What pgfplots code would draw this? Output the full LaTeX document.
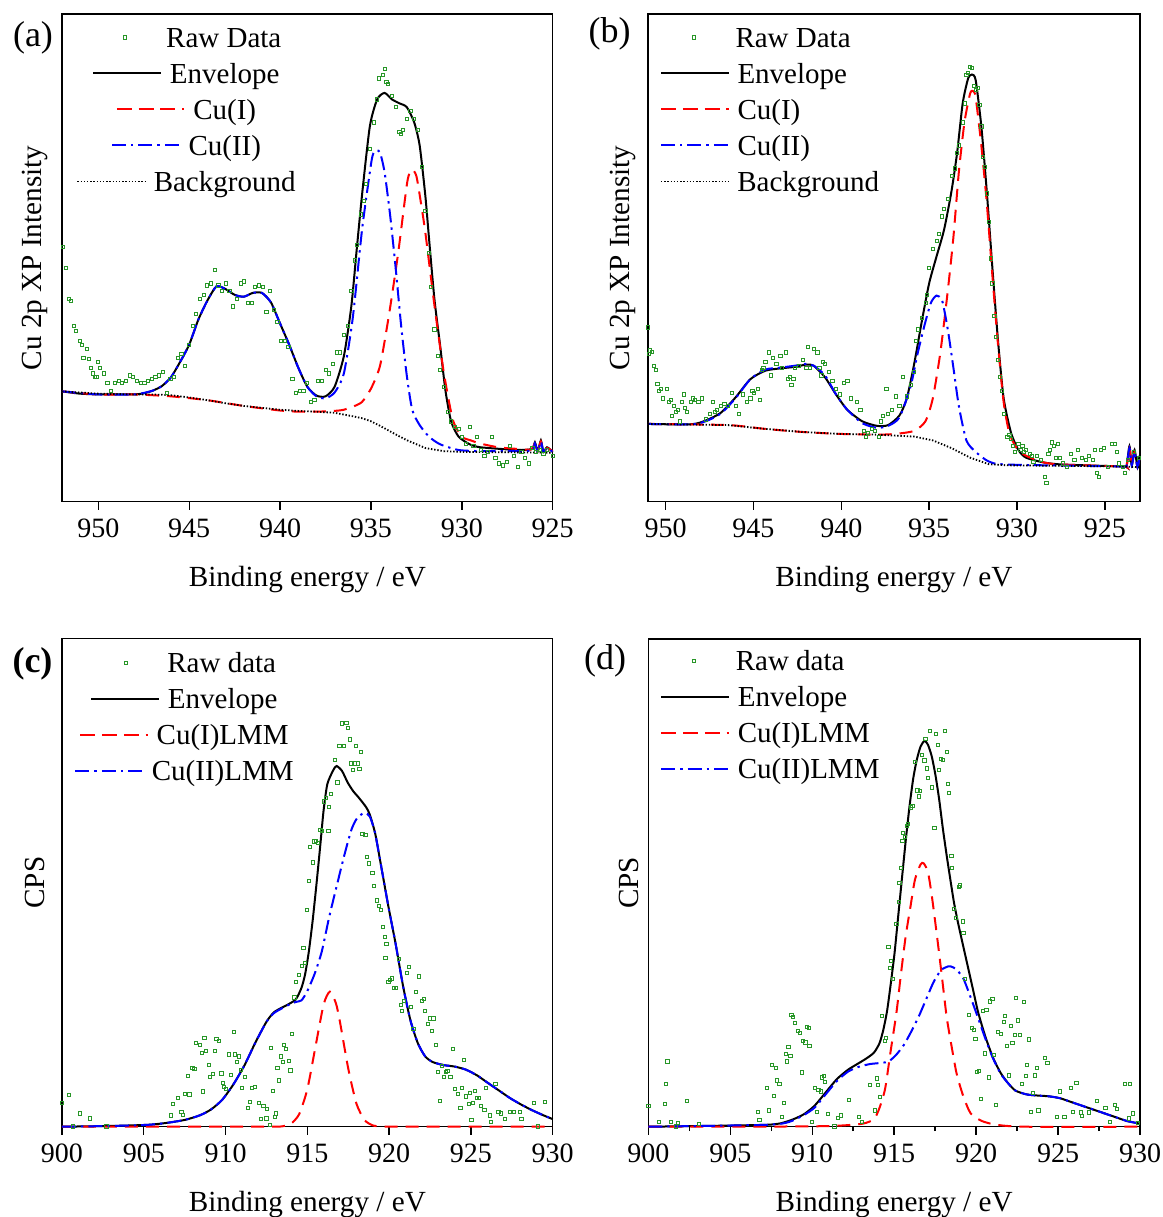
\documentclass[border=0pt]{standalone}
\usepackage{fontspec}
\setmainfont{Liberation Serif}
\usepackage{pgfplots}
\pgfplotsset{compat=1.18}

\definecolor{rawgreen}{RGB}{40,150,40}
\newcommand{\legfont}{\fontsize{14.5}{17.4}\selectfont}
\newcommand{\labfont}{\fontsize{14.6}{17.5}\selectfont}
\newcommand{\smpl}[1]{\tikz[baseline=-4.8pt]{\path (0pt,0pt) (33.75pt,0pt); \draw[#1] (0pt,0pt) -- (33.75pt,0pt);}\hspace{4pt}}
\newcommand{\smplmark}{\tikz[baseline=-4.8pt]{\path (0pt,0pt) (33.75pt,0pt); \draw[rawgreen, line width=0.35pt, solid] (16.1pt,-0.8pt) rectangle (17.7pt,0.8pt);}\hspace{4pt}}

\pgfplotsset{
  envelope/.style={black, solid, line width=1pt, smooth, tension=0.4},
  cuone/.style={red, line width=1pt, dash pattern=on 6.5pt off 4pt, smooth, tension=0.4},
  cutwo/.style={blue, line width=1pt, dash pattern=on 7pt off 2.5pt on 1.2pt off 2.5pt, smooth, tension=0.4},
  bgline/.style={black, line width=0.9pt, dash pattern=on 0.7pt off 0.9pt},
  raw/.style={only marks, mark=square, mark size=0.8pt, mark options={draw=rawgreen, line width=0.35pt, solid, fill=none}},
  xpsbase/.style={
    scale only axis, enlargelimits=false, clip=false,
    axis line style={line width=0.7pt},
    every tick/.style={line width=0.7pt, black},
    tick align=outside, tick pos=left, ytick=\empty,
    major tick length=4pt, minor tick length=2.2pt,
    /pgf/number format/assume math mode=true,
    xticklabel style={font=\fontsize{14}{16}\selectfont, yshift=-1.2pt},
    every axis x label/.style={at={(axis description cs:0.5,0)}, anchor=center, yshift=-39pt, font=\labfont},
    legend image code/.code={},
    legend style={draw=none, fill=none, inner sep=0pt, outer sep=0pt, row sep=0pt, column sep=0pt,
      nodes={inner sep=0pt, outer sep=0pt, text height=11.6pt, text depth=6.4pt, font=\legfont}},
  },
  ylab/.style={every axis y label/.style={at={(axis description cs:0,0.5)}, xshift=#1, rotate=90, anchor=center, font=\labfont}},
}

\begin{document}
\begin{tikzpicture}
\useasboundingbox (0pt,0pt) rectangle (581.5pt,-608.5pt);

% ---------------- (a) ----------------
\begin{axis}[xpsbase, at={(31pt,-250.85pt)}, anchor=south west,
  width=245.35pt, height=243.85pt,
  xmin=925, xmax=952, x dir=reverse, ymin=0, ymax=1273,
  xtick={925,930,...,950},
  xlabel={Binding energy / eV}, ylabel={Cu 2p XP Intensity}, ylab=-13.3pt,
  legend cell align=center,
  legend style={at={(0.2527,1)}, anchor=north, yshift=-4.9pt}]
\addplot[raw] coordinates {
(951.94,665) (951.80,610) (951.63,530) (951.53,525) (951.33,460) (951.23,445) (951.02,420) (950.92,410) (950.82,375) (950.62,400) (950.52,372) (950.41,350) (950.31,335) (950.21,325) (950.11,325) (950.01,365) (949.91,350) (949.70,335) (949.50,310) (949.30,290) (949.09,310) (948.89,315) (948.69,310) (948.48,315) (948.28,330) (948.08,325) (947.87,315) (947.67,310) (947.47,310) (947.26,315) (947.06,320) (946.86,325) (946.65,330) (946.45,340) (946.25,285) (946.04,320) (945.84,325) (945.64,375) (945.43,385) (945.23,355) (945.03,410) (944.82,460) (944.62,490) (944.42,530) (944.21,540) (944.01,565) (943.81,570) (943.60,605) (943.40,565) (943.20,550) (942.99,570) (942.79,550) (942.59,510) (942.38,530) (942.18,570) (941.98,575) (941.77,520) (941.57,520) (941.37,560) (941.16,565) (940.96,560) (940.76,495) (940.55,550) (940.35,500) (940.15,470) (939.94,420) (939.74,420) (939.54,405) (939.33,320) (939.13,285) (938.93,290) (938.72,290) (938.52,310) (938.32,260) (938.11,265) (937.91,315) (937.71,315) (937.50,345) (937.30,335) (937.10,360) (936.89,390) (936.69,390) (936.49,435) (936.28,460) (936.08,550) (935.88,630) (935.78,670) (935.57,750) (935.37,785) (935.27,830) (935.06,920) (934.86,990) (934.66,1050) (934.56,1105) (934.35,1115) (934.25,1130) (934.15,1095) (934.05,1090) (933.84,1060) (933.64,1030) (933.44,965) (933.34,960) (933.23,970) (933.03,1000) (932.83,1020) (932.62,1000) (932.42,970) (932.22,875) (932.01,760) (931.81,650) (931.71,560) (931.51,450) (931.30,380) (931.20,345) (931.00,300) (930.79,235) (930.59,210) (930.39,195) (930.18,190) (929.98,170) (929.78,150) (929.57,195) (929.37,145) (929.17,170) (928.96,135) (928.76,120) (928.56,130) (928.35,170) (928.15,115) (927.95,100) (927.74,95) (927.54,105) (927.34,145) (927.13,120) (926.93,90) (926.73,130) (926.52,115) (926.32,100) (926.12,140) (925.92,130) (925.71,135) (925.51,125) (925.31,135) (925.00,120)
};
\addlegendentry{\smplmark Raw Data}
\addplot[envelope] coordinates {
(952,288) (951,282) (950,280) (949,280) (948,280) (947.5,283) (947,290) (946.5,302) (946,325) (945.5,365) (945,410) (944.5,475) (944,525) (943.5,562) (943,555) (942.5,540) (942,535) (941.5,545) (941,545) (940.5,520) (940,465) (939.5,410) (939,350) (938.5,300) (938,277) (937.5,275) (937,300) (936.49,380) (936.08,510) (935.78,660) (935.47,810) (935.06,980) (934.66,1050) (934.25,1067) (933.84,1050) (933.44,1040) (933.03,1030) (932.62,990) (932.32,930) (932.01,800) (931.81,690) (931.51,530) (931.20,410) (930.90,290) (930.59,210) (930.18,170) (929.57,150) (928.96,142) (926.93,135) (926.12,138) (925.98,155) (925.82,132) (925.65,160) (925.51,130) (925.31,142) (925.00,130)
};
\addlegendentry{\smpl{black,solid,line width=1pt}Envelope}
\addplot[cuone] coordinates {
(952,288) (950,280) (948,280) (946,275) (944,265) (942,250) (940,238) (939,235) (938,235) (937,237) (936.5,240) (936,248) (935.5,260) (935,295) (934.5,355) (934,490) (933.5,650) (933,835) (932.75,867) (932.5,850) (932.25,780) (932,700) (931.5,510) (931,340) (930.5,215) (930,170) (929.5,160) (929,152) (928,142) (927,138) (926.2,136) (925.98,152) (925.82,133) (925.65,157) (925.5,130) (925.3,140) (925,132)
};
\addlegendentry{\smpl{red,line width=1pt,dash pattern=on 7.5pt off 3.4pt}Cu(I)}
\addplot[cutwo] coordinates {
(952,288) (950,280) (948,280) (947,290) (946.5,302) (946,325) (945.5,365) (945,410) (944.5,475) (944,525) (943.5,562) (943,555) (942.5,540) (942,535) (941.5,545) (941,545) (940.5,520) (940,465) (939.5,410) (939,350) (938.5,300) (938,275) (937.5,270) (937,285) (936.49,335) (936,480) (935.49,710) (935,880) (934.86,910) (934.66,917) (934.49,910) (934.25,860) (933.95,750) (933.64,610) (933.34,460) (933.03,330) (932.73,240) (932.32,200) (931.81,170) (931.20,150) (930.18,135) (928.96,132) (926.93,132) (926.12,134) (925.98,152) (925.82,130) (925.65,157) (925.51,130) (925.31,140) (925.00,130)
};
\addlegendentry{\smpl{blue,line width=1pt,dash pattern=on 7pt off 2.5pt on 1.2pt off 2.5pt}Cu(II)}
\addplot[bgline] coordinates {
(952,288) (950,282) (948,280) (947,280) (946,278) (945,272) (944,265) (943,257) (942,250) (941,245) (940,240) (939,237) (938,235) (937,232) (936,223) (935.5,218) (935,210) (934.5,198) (934,185) (933.5,172) (933,160) (932.5,150) (932,140) (931,132) (930,130) (925,128)
};
\addlegendentry{\smpl{black,line width=0.9pt,dash pattern=on 0.7pt off 0.9pt}Background}
\end{axis}

% ---------------- (b) ----------------
\begin{axis}[xpsbase, at={(324pt,-250.85pt)}, anchor=south west,
  width=246pt, height=243.85pt,
  xmin=923, xmax=951, x dir=reverse, ymin=0, ymax=1273,
  xtick={925,930,...,950},
  xlabel={Binding energy / eV}, ylabel={Cu 2p XP Intensity}, ylab=-12.7pt,
  legend cell align=left,
  legend style={at={(0.0244,1)}, anchor=north west, yshift=-4.9pt}]
\addplot[raw] coordinates {
(950.99,455) (950.97,385) (950.89,395) (950.78,392) (950.68,355) (950.57,345) (950.47,307) (950.36,290) (950.25,295) (950.15,270) (949.94,295) (949.83,260) (949.72,265) (949.62,225) (949.51,250) (949.41,235) (949.30,240) (949.19,210) (949.09,260) (948.98,280) (948.88,245) (948.77,235) (948.56,260) (948.45,270) (948.35,265) (948.14,260) (947.92,270) (947.71,215) (947.50,230) (947.29,260) (947.18,235) (947.08,240) (946.86,250) (946.65,255) (946.44,250) (946.23,285) (946.02,250) (945.81,230) (945.59,280) (945.38,260) (945.17,270) (945.06,290) (944.96,285) (944.75,295) (944.64,265) (944.53,345) (944.43,350) (944.32,365) (944.11,390) (944.00,330) (943.90,375) (943.69,360) (943.47,380) (943.37,350) (943.16,390) (943.05,320) (942.94,325) (942.84,305) (942.73,320) (942.63,350) (942.42,355) (942.20,370) (941.99,350) (941.89,405) (941.78,350) (941.57,400) (941.36,390) (941.25,350) (941.14,330) (941.04,365) (940.93,360) (940.72,340) (940.51,315) (940.30,295) (940.08,280) (939.87,310) (939.66,315) (939.45,270) (939.13,260) (938.92,240) (938.71,185) (938.60,170) (938.50,180) (938.28,190) (938.07,185) (937.86,170) (937.75,210) (937.65,225) (937.44,295) (937.33,230) (937.12,240) (936.91,275) (936.69,250) (936.48,325) (936.27,275) (936.06,305) (935.85,340) (935.74,420) (935.64,450) (935.42,480) (935.21,520) (935.11,540) (935.00,610) (934.79,660) (934.58,680) (934.47,700) (934.26,745) (934.15,765) (933.94,790) (933.73,850) (933.52,870) (933.41,910) (933.31,930) (933.09,990) (932.99,1040) (932.88,1115) (932.78,1120) (932.67,1135) (932.56,1132) (932.46,1085) (932.35,1075) (932.25,1080) (932.14,1035) (932.03,980) (931.93,900) (931.82,875) (931.72,805) (931.61,730) (931.50,635) (931.40,570) (931.29,485) (931.19,430) (931.08,370) (930.97,325) (930.87,290) (930.76,230) (930.55,170) (930.44,175) (930.34,165) (930.23,145) (930.13,130) (929.92,150) (929.81,135) (929.70,145) (929.60,130) (929.49,135) (929.28,125) (929.17,120) (929.07,105) (928.86,120) (928.64,110) (928.43,65) (928.33,50) (928.22,125) (928.11,135) (928.01,155) (927.90,145) (927.80,115) (927.69,150) (927.58,115) (927.37,100) (927.16,90) (926.95,125) (926.74,110) (926.53,135) (926.31,115) (926.10,110) (925.89,120) (925.68,110) (925.57,135) (925.47,75) (925.36,65) (925.25,135) (925.04,140) (924.83,90) (924.62,150) (924.41,150) (924.30,130) (924.19,100) (923.98,90) (923.88,75) (923.67,110) (923.35,130) (923.05,115)
};
\addlegendentry{\smplmark Raw Data}
\addplot[envelope] coordinates {
(951,203) (948.56,202) (947.71,212) (946.86,232) (946.02,272) (945.17,320) (944.32,342) (943.47,348) (942.63,352) (941.99,358) (941.57,355) (940.93,325) (940.30,280) (939.66,240) (938.81,210) (937.97,198) (937.33,200) (936.69,225) (936.27,270) (935.85,360) (935.42,470) (935.00,570) (934.58,640) (934.15,710) (933.73,810) (933.41,910) (933.09,1040) (932.78,1105) (932.56,1115) (932.35,1100) (932.03,980) (931.72,810) (931.40,610) (931.08,420) (930.76,270) (930.34,180) (929.92,135) (929.49,115) (928.43,102) (927.37,97) (923.98,92) (923.77,92) (923.60,145) (923.47,95) (923.31,135) (923.14,90) (923.03,120)
};
\addlegendentry{\smpl{black,solid,line width=1pt}Envelope}
\addplot[cuone] coordinates {
(951,203) (946.44,200) (944.32,190) (942.20,182) (940.08,177) (937.97,175) (936.91,177) (935.85,185) (935.21,210) (934.79,270) (934.36,390) (933.94,550) (933.62,690) (933.31,860) (932.99,990) (932.67,1065) (932.50,1072) (932.35,1055) (932.03,930) (931.72,780) (931.40,590) (931.08,410) (930.76,260) (930.44,180) (930.02,140) (929.49,120) (928.43,102) (927.37,97) (923.98,92) (923.77,92) (923.60,140) (923.47,95) (923.31,130) (923.14,90) (923.03,115)
};
\addlegendentry{\smpl{red,line width=1pt,dash pattern=on 7.5pt off 3.4pt}Cu(I)}
\addplot[cutwo] coordinates {
(951,203) (948.56,202) (947.71,210) (946.86,230) (946.02,270) (945.17,320) (944.32,345) (943.47,350) (942.63,355) (941.99,360) (941.57,355) (940.93,330) (940.30,280) (939.66,240) (938.81,205) (937.97,193) (937.33,198) (936.69,220) (936.06,300) (935.64,390) (935.21,470) (934.89,520) (934.58,538) (934.26,525) (933.94,450) (933.62,350) (933.31,250) (932.88,160) (932.35,130) (931.61,105) (930.55,97) (923.98,92) (923.77,92) (923.60,140) (923.47,95) (923.31,130) (923.14,90) (923.03,115)
};
\addlegendentry{\smpl{blue,line width=1pt,dash pattern=on 7pt off 2.5pt on 1.2pt off 2.5pt}Cu(II)}
\addplot[bgline] coordinates {
(951,203) (946.44,200) (944.32,190) (942.20,182) (940.08,177) (937.97,175) (935.85,170) (934.79,160) (933.73,140) (932.67,115) (931.61,98) (930.55,95) (923.98,92) (923.03,90)
};
\addlegendentry{\smpl{black,line width=0.9pt,dash pattern=on 0.7pt off 0.9pt}Background}
\end{axis}

% ---------------- (c) ----------------
\begin{axis}[xpsbase, at={(31pt,-563.35pt)}, anchor=south west,
  width=245.35pt, height=244.1pt,
  xmin=900, xmax=930, ymin=0, ymax=1283,
  xtick={900,905,...,930},
  xlabel={Binding energy / eV}, ylabel={CPS}, ylab=-13.3pt,
  legend cell align=center,
  legend style={at={(0.2486,1)}, anchor=north, yshift=-5.2pt}]
\addplot[raw] coordinates {
(900.00,62) (900.41,83) (900.68,1) (901.08,35) (901.72,22) (902.71,1) (906.66,30) (906.78,60) (907.07,75) (907.30,40) (907.41,32) (907.52,87) (907.70,133) (907.79,85) (907.97,154) (908.09,153) (908.20,220) (908.43,215) (908.54,195) (908.61,93) (908.70,233) (908.81,200) (908.99,162) (909.06,130) (909.22,138) (909.33,200) (909.44,230) (909.60,225) (909.74,140) (909.83,115) (909.89,105) (910.01,100) (910.19,190) (910.30,137) (910.50,250) (910.59,190) (910.68,170) (910.80,185) (910.91,150) (911.02,103) (911.18,130) (911.36,50) (911.48,65) (911.63,102) (911.81,105) (912.04,62) (912.15,20) (912.31,55) (912.49,22) (912.54,48) (912.72,5) (912.79,208) (912.90,95) (913.01,25) (913.08,35) (913.17,155) (913.28,122) (913.40,185) (913.51,170) (913.58,215) (913.67,205) (913.85,173) (913.96,148) (914.07,245) (914.21,340) (914.30,380) (914.48,400) (914.64,422) (914.75,470) (914.86,430) (914.98,570) (915.09,647) (915.16,735) (915.32,695) (915.43,750) (915.54,752) (915.65,745) (915.79,780) (915.88,777) (916.02,855) (916.15,865) (916.29,777) (916.33,840) (916.44,875) (916.67,965) (916.83,905) (916.96,1000) (917.12,1060) (917.24,1000) (917.39,1062) (917.46,1048) (917.60,1018) (917.69,955) (917.80,937) (917.87,955) (917.96,1000) (918.09,955) (918.18,940) (918.25,985) (918.36,770) (918.55,768) (918.66,710) (918.77,692) (918.97,667) (919.09,632) (919.27,595) (919.38,580) (919.49,570) (919.61,525) (919.72,500) (919.83,480) (919.77,443) (919.95,380) (920.06,385) (920.17,390) (920.28,365) (920.40,365) (920.58,442) (920.74,320) (920.80,305) (920.89,330) (921.08,405) (921.19,420) (921.35,315) (921.48,258) (921.64,355) (921.80,395) (921.98,330) (922.14,337) (922.20,305) (922.38,270) (922.50,285) (922.61,252) (922.70,285) (922.84,215) (922.97,145) (923.11,67) (923.22,160) (923.33,130) (923.45,145) (923.56,147) (923.74,130) (923.90,205) (924.01,100) (924.19,87) (924.35,50) (924.46,102) (924.58,175) (924.69,80) (924.85,60) (924.92,90) (925.03,18) (925.14,62) (925.25,95) (925.37,75) (925.48,75) (925.59,55) (925.82,45) (925.93,102) (926.16,30) (926.23,12) (926.50,112) (926.68,40) (926.84,35) (927.06,20) (927.40,40) (927.63,40) (927.97,40) (928.08,20) (928.87,62) (929.09,1) (929.54,65)
};
\addlegendentry{\smplmark Raw data}
\addplot[envelope] coordinates {
(900.00,0) (903.00,2) (905.26,5) (906.39,10) (907.52,18) (908.43,30) (909.10,45) (909.78,70) (910.46,110) (911.14,160) (911.81,220) (912.49,275) (912.94,300) (913.40,312) (913.85,322) (914.30,335) (914.64,365) (914.86,400) (915.09,460) (915.32,540) (915.54,630) (915.77,730) (915.99,830) (916.22,900) (916.56,935) (916.78,948) (917.12,935) (917.46,905) (917.80,882) (918.14,865) (918.59,840) (918.82,820) (919.15,770) (919.49,690) (919.95,580) (920.40,480) (920.85,370) (921.30,280) (921.75,220) (922.20,185) (922.66,170) (923.33,162) (924.01,158) (924.69,150) (925.37,135) (926.04,115) (926.72,95) (927.40,75) (928.08,58) (928.76,43) (929.43,30) (930.00,20)
};
\addlegendentry{\smpl{black,solid,line width=1pt}Envelope}
\addplot[cuone] coordinates {
(900,0) (905,0) (910,0) (913.0,0.2) (913.5,1.3) (914.0,7.9) (914.5,32.9) (915.0,98.7) (915.5,211) (916.0,322) (916.38,355) (916.75,324) (917.0,274) (917.5,153) (918.0,60.7) (918.5,17.3) (919.0,3.5) (919.5,0.5) (920,0) (925,0) (930,0)
};
\addlegendentry{\smpl{red,line width=1pt,dash pattern=on 7.5pt off 3.4pt}Cu(I)LMM}
\addplot[cutwo] coordinates {
(900.00,0) (903.00,2) (905.26,5) (906.39,10) (907.52,18) (908.43,30) (909.10,45) (909.78,70) (910.46,110) (911.14,160) (911.81,220) (912.49,275) (912.94,298) (913.40,310) (913.85,320) (914.30,328) (914.64,332) (914.98,355) (915.43,400) (915.88,460) (916.33,550) (916.78,630) (917.24,710) (917.69,780) (918.03,810) (918.48,825) (918.82,815) (919.15,770) (919.49,690) (919.95,580) (920.40,480) (920.85,370) (921.30,280) (921.75,220) (922.20,185) (922.66,170) (923.33,162) (924.01,158) (924.69,150) (925.37,135) (926.04,115) (926.72,95) (927.40,75) (928.08,58) (928.76,43) (929.43,30) (930.00,20)
};
\addlegendentry{\smpl{blue,line width=1pt,dash pattern=on 7pt off 2.5pt on 1.2pt off 2.5pt}Cu(II)LMM}
\end{axis}

% ---------------- (d) ----------------
\begin{axis}[xpsbase, at={(324.15pt,-563.35pt)}, anchor=south west,
  width=245.85pt, height=243.85pt,
  xmin=900, xmax=930, ymin=0, ymax=1283,
  xtick={900,905,...,930}, minor x tick num=1,
  xlabel={Binding energy / eV}, ylabel={CPS}, ylab=-9.9pt,
  legend cell align=left,
  legend style={at={(0.0244,1)}, anchor=north west, yshift=-4.3pt}]
\addplot[raw] coordinates {
(900.00,55) (900.66,12) (901.02,60) (901.07,113) (901.16,172) (901.36,12) (901.70,1) (901.79,10) (902.36,67) (903.06,7) (906.69,40) (906.78,18) (907.24,103) (907.37,43) (907.53,162) (907.65,82) (907.76,155) (907.83,122) (907.99,112) (908.15,25) (908.29,62) (908.38,192) (908.44,172) (908.55,210) (908.67,187) (908.73,295) (908.83,288) (908.96,273) (909.12,252) (909.24,247) (909.35,143) (909.42,225) (909.58,222) (909.69,262) (909.78,260) (909.83,212) (909.96,12) (910.14,102) (910.26,40) (910.37,98) (910.51,93) (910.60,130) (910.71,133) (910.78,118) (910.94,33) (911.35,1) (911.55,23) (911.73,30) (912.23,70) (912.87,25) (913.05,12) (913.50,110) (913.84,43) (913.93,127) (914.00,110) (914.14,78) (914.27,292) (914.41,225) (914.50,233) (914.64,473) (914.73,418) (914.79,437) (914.91,388) (915.13,533) (915.27,592) (915.32,642) (915.41,682) (915.50,753) (915.54,773) (915.63,763) (915.77,792) (915.86,797) (916.00,840) (916.11,844) (916.27,960) (916.41,885) (916.50,869) (916.56,883) (916.68,979) (916.84,964) (916.90,1020) (917.00,943) (917.06,917) (917.18,1042) (917.29,893) (917.45,787) (917.52,1033) (917.68,1005) (917.74,938) (917.86,967) (917.97,965) (918.08,1042) (918.20,987) (918.27,903) (918.36,878) (918.49,712) (918.54,682) (918.65,573) (918.77,550) (918.95,630) (918.99,635) (919.17,540) (919.22,510) (919.33,388) (919.56,295) (919.72,260) (919.85,255) (919.95,232) (920.04,145) (920.17,147) (920.31,73) (920.40,305) (920.54,193) (920.63,308) (920.76,130) (920.85,330) (920.99,337) (921.08,190) (921.22,58) (921.35,250) (921.53,245) (921.67,275) (921.76,292) (921.90,212) (921.99,135) (922.12,265) (922.21,220) (922.35,242) (922.44,338) (922.53,280) (922.67,242) (922.80,112) (922.90,328) (923.03,133) (923.12,163) (923.21,230) (923.35,40) (923.44,90) (923.58,135) (923.71,155) (923.80,43) (924.21,182) (924.35,167) (924.94,25) (925.12,93) (925.39,25) (925.80,103) (925.91,40) (926.12,115) (926.37,38) (926.43,28) (926.89,38) (927.39,67) (927.89,50) (928.18,12) (928.48,58) (928.59,48) (929.09,112) (929.38,113) (929.32,22) (929.55,35) (929.89,10)
};
\addlegendentry{\smplmark Raw data}
\addplot[envelope] coordinates {
(900,0) (907.19,5) (908.55,15) (909.46,32) (910.14,55) (910.82,90) (911.50,125) (912.19,150) (912.87,168) (913.32,180) (913.77,195) (914.11,220) (914.34,255) (914.57,305) (914.79,375) (915.02,455) (915.25,555) (915.48,655) (915.70,750) (915.93,840) (916.16,915) (916.38,965) (916.61,1000) (916.85,1015) (917.06,1005) (917.29,975) (917.52,925) (917.75,860) (917.97,785) (918.20,715) (918.43,650) (918.65,590) (918.88,540) (919.11,495) (919.45,430) (919.79,365) (920.13,300) (920.58,235) (921.03,182) (921.49,142) (921.94,115) (922.40,95) (923.08,85) (923.76,82) (924.44,80) (925.12,75) (925.80,65) (926.48,55) (927.16,45) (927.84,35) (928.52,25) (929.20,15) (930,8)
};
\addlegendentry{\smpl{black,solid,line width=1pt}Envelope}
\addplot[cuone] coordinates {
(900,0) (905,0) (910,1) (911.73,3) (913.09,8) (913.77,20) (914.11,50) (914.45,100) (914.79,200) (915.14,300) (915.41,400) (915.70,500) (916.00,580) (916.27,650) (916.61,690) (916.80,693) (917.06,670) (917.29,610) (917.59,510) (917.90,400) (918.20,290) (918.47,220) (918.81,140) (919.22,80) (919.67,35) (920.35,15) (921.26,5) (923,0) (930,0)
};
\addlegendentry{\smpl{red,line width=1pt,dash pattern=on 7.5pt off 3.4pt}Cu(I)LMM}
\addplot[cutwo] coordinates {
(900,0) (907.19,5) (908.55,12) (909.46,30) (910.14,50) (910.82,85) (911.50,120) (912.19,145) (912.87,158) (913.55,165) (914.23,168) (914.68,172) (915.14,190) (915.59,215) (916.04,250) (916.50,290) (916.95,335) (917.40,380) (917.86,412) (918.31,422) (918.43,422) (918.77,415) (919.22,390) (919.67,340) (920.13,285) (920.58,230) (921.03,180) (921.49,140) (921.94,115) (922.40,95) (923.08,85) (923.76,82) (924.44,80) (925.12,75) (925.80,65) (926.48,55) (927.16,45) (927.84,35) (928.52,25) (929.20,15) (930,8)
};
\addlegendentry{\smpl{blue,line width=1pt,dash pattern=on 7pt off 2.5pt on 1.2pt off 2.5pt}Cu(II)LMM}
\end{axis}

\node[font=\fontsize{18}{20}\selectfont] at (16.5pt,-18.75pt) {(a)};
\node[font=\fontsize{18}{20}\selectfont] at (304.85pt,-17pt) {(b)};
\node[font=\fontsize{18}{20}\selectfont\bfseries] at (16.25pt,-331.75pt) {(c)};
\node[font=\fontsize{18}{20}\selectfont] at (302.5pt,-330.25pt) {(d)};
\end{tikzpicture}
\end{document}
